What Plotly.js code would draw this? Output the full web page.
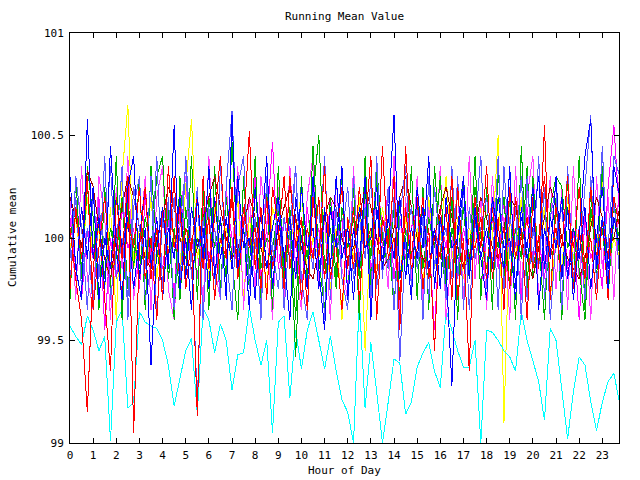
<!DOCTYPE html>
<html>
<head>
<meta charset="utf-8">
<script src="https://cdn.plot.ly/plotly-3.0.1.min.js"></script>
<style>html,body{margin:0;padding:0;background:#fff;}#chart{width:640px;height:480px;}
#chart .js-line{shape-rendering:crispEdges;}</style>
</head>
<body>
<div id="chart"></div>
<script>
// Hour of day, 15-minute steps (index i -> i/4 hours)
const stepsPerHour = 4;
const hourTicks = [0,1,2,3,4,5,6,7,8,9,10,11,12,13,14,15,16,17,18,19,20,21,22,23];
const yTicks = [99, 99.5, 100, 100.5, 101];
const yTickText = ["99", "99.5", "100", "100.5", "101"];

const redSeries = [100.05,99.80,99.60,99.15,99.85,100.10,99.70,99.35,100.20,99.90,100.30,99.05,
 99.95,100.25,99.80,100.05,99.70,100.35,99.95,100.15,99.75,100.00,99.13,100.30,
 99.85,100.10,100.40,99.90,100.20,99.80,100.05,100.52,99.85,100.15,99.70,100.25,
 100.05,99.75,100.30,99.95,100.10,99.65,100.20,99.90,100.35,99.80,100.00,100.25,
 99.85,100.15,99.70,100.05,100.40,99.60,100.10,99.95,100.30,99.55,100.45,99.90,
 100.20,99.75,100.05,99.45,100.15,99.85,100.30,99.70,100.00,99.35,100.20,99.95,
 100.35,99.80,100.10,99.65,100.25,99.90,100.05,99.60,100.20,99.85,100.55,99.70,
 100.15,99.95,100.30,99.75,100.05,99.80,100.25,99.90,100.10,99.70,100.35,100.20];

const blueSeries = [100.30,99.85,99.70,100.58,99.90,100.10,99.75,100.45,99.95,99.70,100.25,100.40,
 99.80,100.05,99.38,99.95,100.15,99.85,100.55,99.75,100.00,99.65,100.20,99.90,
 100.35,99.80,100.10,99.70,100.60,99.85,100.05,99.65,100.25,99.95,100.40,99.75,
 100.10,99.90,99.60,100.20,100.00,99.75,100.30,99.85,99.55,100.15,99.95,100.35,
 99.70,100.05,99.85,100.30,99.60,100.15,99.90,100.10,100.60,99.80,100.00,99.70,
 100.25,99.95,100.40,99.75,100.10,99.85,99.28,100.05,100.30,99.80,100.15,99.90,
 99.70,100.20,100.00,99.85,100.35,99.75,100.10,99.95,100.25,99.65,100.05,99.90,
 100.30,99.80,100.15,99.70,100.00,100.40,100.58,99.85,100.10,99.75,100.35,100.20];

const slateSeries = [99.90,100.20,99.75,100.05,99.65,100.15,99.95,100.35,99.80,100.00,99.70,100.25,
 100.05,99.85,100.30,99.60,100.10,99.90,100.20,99.75,100.40,99.95,99.20,100.10,
 99.85,100.05,99.70,100.25,100.62,99.90,100.15,99.80,100.00,99.65,100.30,99.95,
 99.75,100.10,99.90,100.35,99.70,100.05,99.85,100.20,99.60,100.15,99.95,100.00,
 100.25,99.80,100.10,99.90,100.30,99.75,100.05,99.85,100.20,99.40,100.00,100.15,
 99.85,100.10,99.70,100.25,99.95,100.05,99.80,100.30,99.65,100.15,99.90,100.05,
 100.20,99.85,100.40,99.75,100.10,99.95,100.30,99.70,100.05,99.85,100.25,99.60,
 100.00,100.15,99.80,100.05,99.90,100.25,100.60,99.75,100.10,99.95,100.40,100.30];

const slate2Series = [99.75,100.30,100.05,99.65,100.25,99.80,100.40,99.70,99.95,100.35,99.60,100.15,
 100.30,99.70,99.85,100.40,99.75,100.20,99.65,100.05,100.35,99.80,100.25,99.60,
 100.15,99.70,100.35,99.90,99.65,100.25,100.40,99.75,100.10,99.60,100.30,99.85,
 100.20,99.65,100.05,100.35,99.80,99.60,100.25,99.90,100.40,99.70,100.15,99.80,
 99.65,100.30,99.85,100.15,99.70,100.40,99.80,100.25,99.65,100.10,100.35,99.75,
 100.20,99.60,100.30,99.85,100.10,99.70,100.35,99.80,100.25,99.65,100.05,100.40,
 99.75,100.20,99.65,100.35,99.90,100.15,99.60,100.30,99.85,100.40,99.70,100.10,
 100.25,99.65,100.35,99.80,100.05,99.70,100.30,99.85,100.45,99.75,100.20,99.80];

const greenSeries = [100.00,100.15,99.85,100.25,99.95,100.10,99.80,100.05,99.90,100.20,99.75,100.00,
 99.85,100.10,99.95,100.30,100.40,99.80,100.05,99.70,100.15,99.90,100.00,99.85,
 100.20,99.95,100.10,99.80,100.47,99.90,100.05,99.75,100.25,99.85,100.00,99.95,
 100.15,99.80,100.05,99.42,100.10,99.90,100.20,100.50,99.85,100.05,99.75,100.15,
 99.95,100.10,99.80,100.25,99.90,100.35,100.00,99.85,100.15,99.70,100.05,99.90,
 100.20,99.85,100.10,99.95,100.30,99.75,100.05,99.90,100.15,99.80,100.25,100.00,
 99.85,100.10,99.95,100.20,99.75,100.05,99.90,100.35,99.80,100.00,99.60,100.15,
 100.30,100.25,99.95,100.05,99.85,99.60,100.15,99.90,100.05,99.75,100.10,100.00];

const green2Series = [99.70,100.30,99.80,100.35,100.10,99.65,100.25,99.75,100.40,99.60,100.20,99.85,
 100.30,99.65,100.35,99.95,99.75,100.15,99.60,100.30,99.80,100.40,99.70,100.25,
 99.65,100.35,99.75,100.20,99.90,99.60,100.30,99.85,100.40,99.70,100.25,99.65,
 100.35,99.80,100.15,99.60,100.30,99.75,100.45,99.90,99.65,100.20,99.80,100.35,
 99.70,100.25,99.60,100.40,99.75,100.30,99.85,100.05,99.65,100.20,99.80,100.35,
 99.70,100.25,99.65,100.35,99.95,99.75,100.20,99.60,100.30,99.85,100.40,99.70,
 100.25,99.65,100.35,99.80,100.20,99.60,100.45,99.75,100.30,99.85,100.25,99.70,
 100.20,99.60,100.30,99.75,100.40,99.65,100.25,99.80,100.35,99.70,100.20,99.90];

const magentaSeries = [100.10,99.85,99.70,100.05,99.90,100.20,99.55,100.00,99.80,100.15,99.95,100.05,
 99.75,100.20,99.90,100.05,99.85,100.10,99.70,100.25,99.95,100.00,99.80,100.15,
 99.90,100.05,99.75,100.20,100.00,99.85,100.10,99.95,100.30,99.80,100.05,100.47,
 99.85,100.10,99.95,100.00,99.70,100.15,99.90,100.05,99.80,100.20,99.95,100.10,
 99.75,100.05,99.90,100.15,99.85,100.00,99.95,100.25,99.80,100.10,99.90,100.05,
 100.15,99.85,100.00,99.55,100.10,99.95,100.20,99.80,100.05,99.90,100.15,99.75,
 100.00,100.10,99.85,100.20,99.95,100.05,99.70,100.15,99.90,100.00,99.80,100.10,
 99.95,100.20,99.85,100.05,99.60,100.10,99.90,100.00,99.75,100.25,100.55,100.10];

const magenta2Series = [100.20,99.70,100.35,99.80,99.65,100.30,100.10,99.60,100.25,99.85,100.40,99.70,
 99.95,100.30,99.65,100.20,100.35,99.75,99.60,100.15,100.30,99.80,100.25,99.65,
 100.40,99.85,99.70,100.25,99.90,100.35,99.65,100.20,99.75,100.30,100.05,99.60,
 100.25,99.70,100.35,99.85,99.65,100.20,100.40,99.75,100.10,99.60,100.30,99.85,
 99.70,100.35,99.80,100.20,99.65,100.30,100.05,99.75,100.40,99.65,100.20,99.80,
 100.30,99.70,100.15,99.85,100.35,99.60,99.95,100.25,99.70,100.40,99.80,100.20,
 99.65,100.30,99.85,100.10,99.60,100.35,99.75,100.20,100.40,99.70,99.90,100.30,
 99.75,100.25,99.65,100.35,99.80,100.15,99.60,100.30,99.85,100.20,99.70,100.35];

const cyanSeries = [99.57,99.52,99.48,99.62,99.55,99.45,99.52,99.01,99.59,99.65,99.17,99.20,
 99.64,99.59,99.57,99.56,99.50,99.38,99.18,99.32,99.45,99.51,99.14,99.66,
 99.60,99.44,99.58,99.50,99.26,99.43,99.44,99.66,99.50,99.38,99.50,99.05,
 99.59,99.62,99.22,99.55,99.36,99.55,99.64,99.50,99.36,99.52,99.35,99.21,
 99.15,99.00,99.70,99.17,99.49,99.25,99.00,99.20,99.41,99.39,99.14,99.20,
 99.37,99.44,99.49,99.35,99.27,99.65,99.55,99.45,99.37,99.37,99.50,99.00,
 99.55,99.54,99.50,99.45,99.42,99.35,99.64,99.50,99.40,99.30,99.11,99.56,
 99.50,99.25,99.02,99.25,99.42,99.38,99.20,99.06,99.20,99.30,99.34,99.19];

const yellowSeries = [99.95,100.10,99.85,100.20,99.90,100.05,99.75,100.15,99.60,100.30,100.65,99.85,
 100.05,99.90,100.20,99.80,100.10,99.95,100.00,99.85,100.25,100.58,99.90,100.05,
 99.80,100.15,99.95,100.05,99.85,100.20,99.70,100.10,99.90,100.00,99.75,100.15,
 100.05,99.85,100.10,99.95,100.25,99.80,100.00,99.90,100.15,99.75,100.05,99.60,
 100.10,99.90,100.20,99.45,100.05,99.85,100.15,99.95,100.00,99.80,100.10,99.90,
 100.05,99.75,100.20,99.85,100.00,100.30,99.90,100.10,99.80,100.05,99.95,100.15,
 99.85,100.00,100.50,99.10,100.10,99.90,100.20,99.80,100.05,99.95,100.15,99.70,
 100.00,99.85,100.20,99.90,100.05,99.75,100.10,99.95,100.30,99.85,100.00,99.90];

const darkRedSeries = [100.20,100.10,99.95,100.33,100.25,100.05,99.90,99.80,100.00,100.15,100.30,100.20,
 100.05,99.90,99.85,100.00,100.10,100.25,100.15,100.00,99.90,99.85,99.95,100.10,
 100.20,100.30,100.15,100.00,99.90,99.95,100.05,100.20,100.10,99.95,99.85,99.90,
 100.05,100.15,100.25,100.10,99.95,99.85,99.80,99.95,100.10,100.20,100.15,100.00,
 99.90,99.95,100.10,100.25,100.15,100.00,99.85,99.90,100.05,100.20,100.30,100.15,
 100.00,99.90,99.85,100.00,100.15,100.25,100.10,99.95,99.85,99.90,100.05,100.20,
 100.10,99.95,99.90,100.05,100.20,100.15,100.00,99.90,99.80,99.95,100.10,100.25,
 100.15,100.00,99.90,99.85,99.80,99.90,100.05,100.20,100.10,99.95,100.00,100.15];

const red2Series = [99.75,100.15,99.90,100.30,99.65,99.95,100.20,99.85,100.05,99.70,100.10,99.95,
 100.25,99.80,100.00,99.60,100.15,99.90,100.30,99.75,100.05,99.95,100.20,99.85,
 100.10,99.70,100.00,99.90,100.25,99.80,100.15,99.95,100.05,99.75,100.20,99.85,
 100.00,100.30,99.85,100.10,99.70,100.05,99.90,100.20,99.80,100.15,99.95,99.65,
 100.10,99.85,100.25,99.95,100.05,99.80,100.45,99.90,100.00,99.70,100.15,99.85,
 99.95,100.20,99.80,100.05,99.90,100.15,99.70,100.25,99.85,100.00,99.95,100.10,
 99.80,100.15,99.90,100.05,99.75,100.20,99.95,100.10,99.85,100.00,100.30,99.90,
 100.05,99.80,100.15,99.95,100.25,99.85,100.00,99.70,100.10,99.90,100.20,100.05];

const blue2Series = [100.05,99.80,100.15,99.90,100.25,99.70,100.00,99.85,100.20,99.95,100.10,99.75,
 100.00,100.25,99.85,100.10,99.70,100.05,99.90,100.20,99.80,100.15,99.95,100.05,
 99.75,100.20,99.90,100.10,99.85,100.30,99.95,100.00,99.70,100.15,99.85,100.05,
 100.20,99.90,100.10,99.80,100.25,99.95,100.05,99.75,100.15,99.85,100.30,99.90,
 100.05,99.70,100.15,99.95,100.00,100.25,99.85,100.10,99.90,100.20,99.80,100.05,
 99.90,100.15,99.85,100.05,99.75,100.20,99.95,100.00,100.25,99.80,100.10,99.90,
 100.05,99.85,100.20,99.95,100.00,99.70,100.15,99.90,100.05,100.30,99.85,100.10,
 99.95,100.20,99.80,100.05,99.90,100.15,99.75,100.00,100.25,99.85,100.10,99.95];

const seriesList = [
  {y: yellowSeries, color: '#ffff00'},
  {y: cyanSeries, color: '#00ffff'},
  {y: magenta2Series, color: '#ff40ff'},
  {y: magentaSeries, color: '#ff00ff'},
  {y: green2Series, color: '#00b000'},
  {y: greenSeries, color: '#00b000'},
  {y: darkRedSeries, color: '#a00000'},
  {y: slate2Series, color: '#5a5aff'},
  {y: slateSeries, color: '#5a5aff'},
  {y: red2Series, color: '#ff0000'},
  {y: blue2Series, color: '#0000ff'},
  {y: redSeries, color: '#ff0000'},
  {y: blueSeries, color: '#0000ff'}
];

const traces = seriesList.map(s => ({
  x: s.y.map((_, i) => i / stepsPerHour),
  y: s.y,
  type: 'scatter',
  mode: 'lines',
  line: {color: s.color, width: 1},
  hoverinfo: 'skip',
  showlegend: false
}));

const font = {family: 'DejaVu Sans Mono, monospace', size: 11, color: '#000'};

const layout = {
  width: 640, height: 480,
  margin: {l: 70, r: 21, t: 33, b: 37, pad: 0},
  paper_bgcolor: '#fff', plot_bgcolor: '#fff',
  font: font,
  showlegend: false,
  title: {text: 'Running Mean Value', font: font, x: 344.5/640, xanchor: 'center', y: 1 - 16/480, yanchor: 'middle'},
  xaxis: {
    range: [0, 23.72], tickvals: hourTicks, ticktext: hourTicks.map(String),
    ticks: 'inside', ticklen: 5, tickcolor: '#000', tickwidth: 1,
    showline: true, linecolor: '#000', linewidth: 1, mirror: 'ticks',
    showgrid: false, zeroline: false, tickfont: font, ticklabelstandoff: 2
  },
  yaxis: {
    range: [99, 101], tickvals: yTicks, ticktext: yTickText,
    ticks: 'inside', ticklen: 5, tickcolor: '#000', tickwidth: 1,
    showline: true, linecolor: '#000', linewidth: 1, mirror: 'ticks',
    showgrid: false, zeroline: false, tickfont: font, ticklabelstandoff: 3
  },
  annotations: [
    {text: 'Hour of Day', xref: 'paper', yref: 'paper', x: 0.5, y: (443 - 470) / 410,
     xanchor: 'center', yanchor: 'middle', showarrow: false, font: font},
    {text: 'Cumulative mean', xref: 'paper', yref: 'paper', x: (12 - 70) / 549, y: 0.5,
     xanchor: 'center', yanchor: 'middle', textangle: -90, showarrow: false, font: font}
  ]
};

Plotly.newPlot('chart', traces, layout, {displayModeBar: false, staticPlot: true});
</script>
</body>
</html>
